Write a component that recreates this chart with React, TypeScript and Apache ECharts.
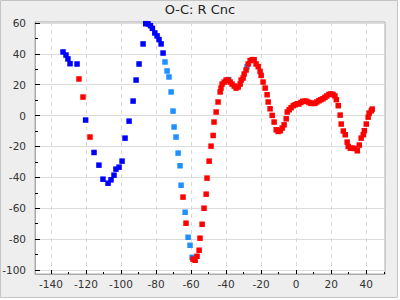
import React, { useEffect, useRef } from "react";
import * as echarts from "echarts";

const titleText = "O-C: R Cnc";

const xMajorTicks = [-140, -120, -100, -80, -60, -40, -20, 0, 20, 40];
const xMinorTicks = [-130, -110, -90, -70, -50, -30, -10, 10, 30, 50];
const yMajorTicks = [-100, -80, -60, -40, -20, 0, 20, 40, 60];
const yMinorTicks = [-90, -70, -50, -30, -10, 10, 30, 50];

const blueSeries: [number, number][] = [
  [-133.1, 41.2], [-131.4, 39.2], [-130.3, 36.7], [-129.1, 33.6], [-125.1, 33.4],
  [-120.2, -2.9], [-115.4, -23.9], [-112.6, -32.1], [-110.3, -41.2], [-107.4, -43.8],
  [-105.7, -41.6], [-104, -38.6], [-102.9, -34.7], [-101.1, -33.4], [-99.4, -29.5],
  [-97.7, -14.6], [-95.4, -3.6], [-93.1, 9.4], [-91.4, 23], [-89.7, 33.4],
  [-87.4, 46.4], [-85.9, 59.5], [-84.6, 59.4], [-83.2, 58.2], [-82.1, 56.5],
  [-80.7, 53.5], [-79.4, 51.6], [-78.3, 49.2], [-77.1, 46.4], [-76, 40.5],
];

const lightBlueSeries: [number, number][] = [
  [-74.9, 34.7], [-73.7, 28.9], [-72.6, 25], [-71.4, 15.3], [-70.3, 2.9],
  [-69.7, -7.4], [-68.6, -13.9], [-67.4, -24.3], [-66.3, -32.5], [-65.7, -45.1],
  [-63.4, -62.6], [-61.7, -78.8], [-60.6, -84], [-59.4, -91.8],
  [-38.5, 23.3], [-28.1, 31.5],
];

const redSeries: [number, number][] = [
  [-124, 23.7], [-121.7, 12], [-117.7, -13.9],
  [-64.6, -52.8], [-62.9, -69.7], [-58.9, -93], [-57.7, -93.7], [-56.6, -91.1],
  [-55.4, -87.2], [-54.9, -79.4], [-53.7, -70.4], [-52.6, -60], [-51.4, -50.9],
  [-50.9, -40.5], [-49.7, -29.5], [-48.6, -19.8], [-47.4, -12.9], [-46.9, -4.2],
  [-45.7, 2.3], [-44.6, 8.8], [-43.4, 15.3], [-42.9, 17.8], [-42.3, 20.4],
  [-41.1, 21.7], [-40, 23], [-38.9, 23], [-37.7, 21.7], [-36.6, 20.4],
  [-35.4, 19.1], [-34.3, 17.8], [-33.1, 18.5], [-32, 20.4], [-31.4, 23],
  [-30.3, 24.3], [-29.7, 26.9], [-28.6, 29.5], [-27.4, 33.4], [-26.3, 35.6],
  [-25.1, 36.2], [-24, 36.2], [-22.9, 33.4], [-21.7, 31.7], [-20.6, 28.6],
  [-20, 26], [-18.9, 21.7], [-17.7, 17.8], [-16.6, 13.5], [-16, 8.8],
  [-14.9, 4.4], [-13.7, 0.1], [-12.6, -4.2], [-11.4, -9.2], [-10.3, -10.3],
  [-9.1, -9.8], [-8, -8.1], [-6.9, -6], [-5.7, -2.1], [-5.1, 2.3],
  [-4, 3.8], [-2.9, 5.1], [-1.7, 6.4], [-0.6, 7], [0.6, 7.7],
  [1.5, 7.5], [2.7, 8.5], [3.8, 9.2], [5, 9.4], [6.1, 9.2],
  [7.3, 8.5], [8.4, 7.9], [9.5, 7.9], [10.7, 7.9], [11.8, 8.8],
  [13, 9.6], [14.1, 10.3], [15.3, 10.9], [16.4, 11.8], [17.5, 12.7],
  [18.7, 13.7], [19.8, 14], [21, 13.7], [22.1, 12.7], [22.9, 10.3],
  [24, 6.4], [25.1, 0.3], [25.7, -5.5], [26.9, -10], [28, -12.4],
  [29.1, -17.2], [29.7, -20], [30.9, -21.1], [32, -21.1], [33.1, -21.3],
  [34.9, -22.8], [36, -19.1], [37.1, -14.6], [38.3, -12.4], [38.9, -9.8],
  [40, -5.5], [41.1, -1], [41.7, 1.6], [42.9, 3.1], [43.4, 4.2],
];

const X_MIN = -149.1;
const X_MAX = 50.7;
const Y_MIN = -102.6;
const Y_MAX = 60.6;

const FONT = "DejaVu Sans";

export default function App() {
  const ref = useRef<HTMLDivElement>(null);

  useEffect(() => {
    if (!ref.current) return;
    const chart = echarts.init(ref.current, undefined, { renderer: "svg" });
    const labelStyle = { fontSize: 10.5, color: "#333", fontFamily: FONT };
    const option: any = {
      animation: false,
      backgroundColor: "#ffffff",
      graphic: [
        {
          type: "rect",
          z: -1,
          silent: true,
          shape: { x: 0.5, y: 0.5, width: 397, height: 297 },
          style: { fill: "#eeeeee", stroke: "#c4c4c4", lineWidth: 1 },
        },
      ],
      title: {
        text: titleText,
        left: "center",
        top: 3,
        padding: 0,
        textStyle: { fontSize: 13, fontWeight: "normal", color: "#222", fontFamily: FONT },
      },
      grid: {
        left: 35,
        top: 22,
        right: 15,
        bottom: 26,
        show: true,
        backgroundColor: "#ffffff",
        borderColor: "#aaaaaa",
        borderWidth: 1,
        outerBoundsMode: "none",
      },
      xAxis: [
        {
          type: "value",
          min: X_MIN,
          max: X_MAX,
          position: "bottom",
          axisLine: { show: true, onZero: false, lineStyle: { color: "#aaaaaa" } },
          axisTick: { show: true, inside: true, length: 4, customValues: xMajorTicks, lineStyle: { color: "#000" } },
          axisLabel: { ...labelStyle, customValues: xMajorTicks, margin: 4 },
          splitLine: { show: true, lineStyle: { type: [4, 4], color: "#d8d8d8" } },
        },
        {
          type: "value",
          min: X_MIN,
          max: X_MAX,
          position: "bottom",
          offset: 0,
          axisLine: { show: false, onZero: false },
          axisTick: { show: true, inside: true, length: 2, customValues: xMinorTicks, lineStyle: { color: "#000" } },
          axisLabel: { show: false },
          splitLine: { show: false },
        },
      ],
      yAxis: [
        {
          type: "value",
          min: Y_MIN,
          max: Y_MAX,
          position: "left",
          axisLine: { show: true, onZero: false, lineStyle: { color: "#aaaaaa" } },
          axisTick: { show: true, inside: true, length: 5, customValues: yMajorTicks, lineStyle: { color: "#000" } },
          axisLabel: { ...labelStyle, customValues: yMajorTicks, margin: 9 },
          splitLine: { show: true, lineStyle: { type: "solid", color: "#dcdcdc" } },
        },
        {
          type: "value",
          min: Y_MIN,
          max: Y_MAX,
          position: "left",
          offset: 0,
          axisLine: { show: false, onZero: false },
          axisTick: { show: true, inside: true, length: 3, customValues: yMinorTicks, lineStyle: { color: "#000" } },
          axisLabel: { show: false },
          splitLine: { show: false },
        },
      ],
      series: [
        {
          type: "scatter",
          name: "blue",
          xAxisIndex: 0,
          yAxisIndex: 0,
          symbol: "rect",
          symbolSize: 5.5,
          itemStyle: { color: "#0000ff", opacity: 1 },
          data: blueSeries,
        },
        {
          type: "scatter",
          name: "lightblue",
          xAxisIndex: 0,
          yAxisIndex: 0,
          symbol: "rect",
          symbolSize: 5.5,
          itemStyle: { color: "#1e90ff", opacity: 1 },
          data: lightBlueSeries,
        },
        {
          type: "scatter",
          name: "red",
          xAxisIndex: 0,
          yAxisIndex: 0,
          symbol: "rect",
          symbolSize: 5.5,
          itemStyle: { color: "#ff0000", opacity: 1 },
          data: redSeries,
        },
      ],
    };
    chart.setOption(option);
    return () => chart.dispose();
  }, []);

  return (
    <div
      ref={ref}
      style={{ position: "absolute", left: 0, top: 0, width: 400, height: 300 }}
    />
  );
}
